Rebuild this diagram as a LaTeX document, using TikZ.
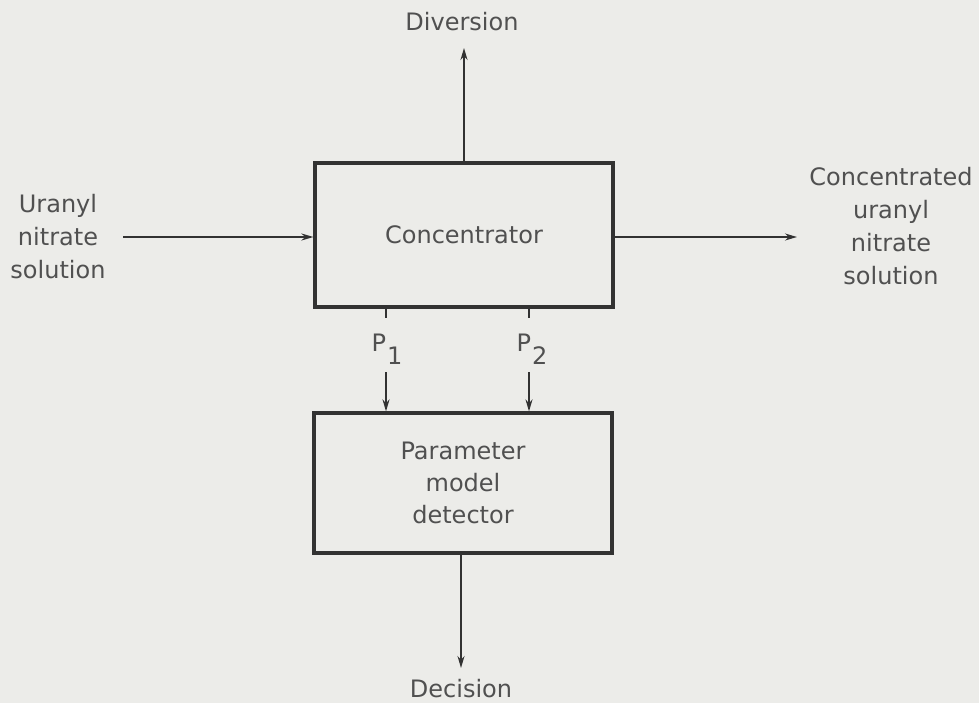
\documentclass[tikz,border=0pt]{standalone}
\usepackage{fontspec}
\setmainfont{DejaVu Sans}
\usetikzlibrary{arrows.meta}
\definecolor{bg}{RGB}{236,236,233}
\definecolor{ink}{RGB}{50,50,50}
\definecolor{txt}{RGB}{80,80,80}
\tikzset{
  box/.style={draw=ink, line width=3.2pt, minimum width=298pt, align=center, text=txt, font=\fontsize{24}{32}\selectfont},
  lbl/.style={text=txt, align=center, inner sep=0pt, font=\fontsize{24}{33}\selectfont},
  arr/.style={draw=ink, line width=1.7pt, -{Stealth[length=12pt,width=7pt]}},
  ln/.style={draw=ink, line width=1.7pt}
}
\begin{document}
\begin{tikzpicture}[x=1pt,y=-1pt]
\useasboundingbox (0,0) rectangle (979,703);
\fill[bg] (0,0) rectangle (979,703);
\node[box, minimum height=144pt] (conc) at (464,235) {Concentrator};
\node[box, minimum height=140pt] (pmd) at (463,483) {Parameter\\model\\detector};
\node[lbl] (div) at (462,22) {Diversion};
\node[lbl] (uns) at (58,237) {Uranyl\\nitrate\\solution};
\node[lbl] (cuns) at (891,226) {Concentrated\\uranyl\\nitrate\\solution};
\node[lbl] (dec) at (461,689) {Decision};
\node[lbl] (p1) at (387,349) {P\kern1pt\raisebox{-13pt}{1}};
\node[lbl] (p2) at (532,349) {P\kern1pt\raisebox{-13pt}{2}};
\coordinate (divtip) at (464,48);
\coordinate (instart) at (123,237);
\coordinate (outend) at (797,237);
\coordinate (p1top) at (386,318);
\coordinate (p1start) at (386,372);
\coordinate (p2top) at (529,318);
\coordinate (p2start) at (529,372);
\coordinate (dectip) at (461,668);
\draw[arr] (divtip |- conc.north) -- (divtip);
\draw[arr] (instart) -- (instart -| conc.west);
\draw[arr] (outend -| conc.east) -- (outend);
\draw[ln] (p1top |- conc.south) -- (p1top);
\draw[ln] (p2top |- conc.south) -- (p2top);
\draw[arr] (p1start) -- (p1start |- pmd.north);
\draw[arr] (p2start) -- (p2start |- pmd.north);
\draw[arr] (dectip |- pmd.south) -- (dectip);
\end{tikzpicture}
\end{document}
